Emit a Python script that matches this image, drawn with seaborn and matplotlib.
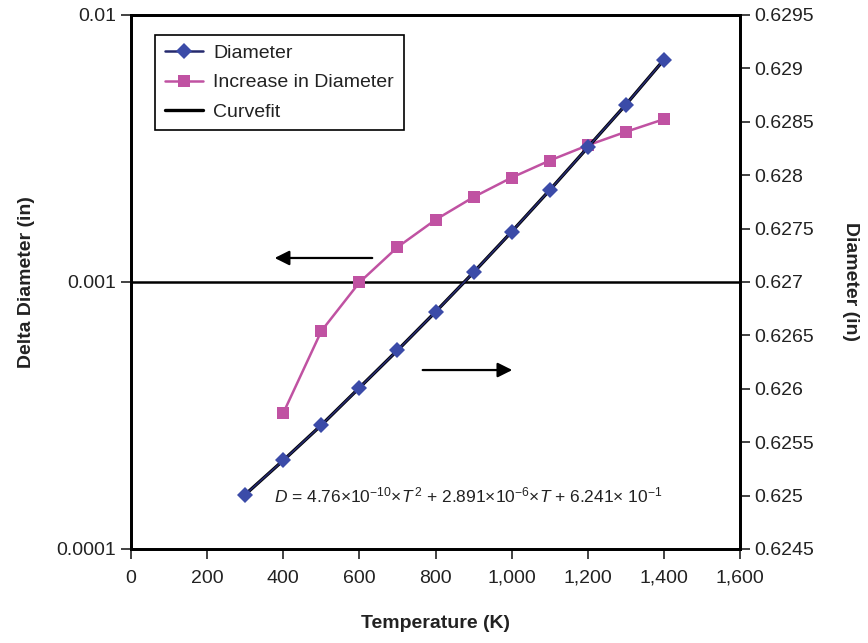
import numpy as np
import pandas as pd
import matplotlib
matplotlib.use("Agg")
import matplotlib.pyplot as plt
import matplotlib.ticker as mtick
import seaborn as sns
from matplotlib.lines import Line2D

# %% data
temps = [300, 400, 500, 600, 700, 800, 900, 1000, 1100, 1200, 1300, 1400]
diameter = [0.62501, 0.62533, 0.62566, 0.62601, 0.62636, 0.62672,
            0.62709, 0.62747, 0.62786, 0.62826, 0.62866, 0.62908]
temps_inc = [400, 500, 600, 700, 800, 900, 1000, 1100, 1200, 1300, 1400]
increase = [0.000323, 0.000655, 0.000996, 0.00135, 0.00171, 0.00208,
            0.00246, 0.00285, 0.00325, 0.00365, 0.00407]
curvefit = diameter

x_ticks = [0, 200, 400, 600, 800, 1000, 1200, 1400, 1600]
left_ticks = [0.0001, 0.001, 0.01]
left_labels = ["0.0001", "0.001", "0.01"]
right_ticks = [0.6245, 0.625, 0.6255, 0.626, 0.6265, 0.627, 0.6275, 0.628, 0.6285, 0.629, 0.6295]

# %% style
sns.set_style("ticks")
plt.rcParams["font.family"] = ["Liberation Sans", "DejaVu Sans"]
plt.rcParams["mathtext.fontset"] = "custom"
plt.rcParams["mathtext.rm"] = "Liberation Sans"
plt.rcParams["mathtext.it"] = "Liberation Sans:italic"
plt.rcParams["axes.unicode_minus"] = True

navy = "#252a6e"
blue = "#3b4ba8"
pink = "#c052a2"
txt = "#222222"

df_d = pd.DataFrame({"T": temps, "D": diameter, "fit": curvefit})
df_i = pd.DataFrame({"T": temps_inc, "inc": increase})

fig = plt.figure(figsize=(8.68, 6.43), dpi=100)
ax = fig.add_axes([0.151, 0.1462, 0.7015, 0.8305])
ax2 = ax.twinx()

# left axis: increase in diameter (log)
sns.lineplot(data=df_i, x="T", y="inc", ax=ax, color=pink, lw=1.8,
             marker="s", markersize=8.5, markeredgewidth=0, markerfacecolor=pink)
ax.set_yscale("log")
ax.set_ylim(0.0001, 0.01)
ax.set_yticks(left_ticks)
ax.set_yticklabels(left_labels)
ax.yaxis.set_minor_locator(mtick.NullLocator())
ax.axhline(0.001, color="black", lw=1.8, zorder=1)

# right axis: diameter and curvefit
sns.lineplot(data=df_d, x="T", y="fit", ax=ax2, color="black", lw=2.4)
sns.lineplot(data=df_d, x="T", y="D", ax=ax2, color=navy, lw=1.2,
             marker="D", markersize=8, markeredgewidth=0, markerfacecolor=blue)
ax2.set_ylim(0.6245, 0.6295)
ax2.set_yticks(right_ticks)
ax2.yaxis.set_major_formatter(mtick.FuncFormatter(lambda v, p: f"{v:.4f}".rstrip("0")))

ax.set_xlim(0, 1600)
ax.set_xticks(x_ticks)
ax.xaxis.set_major_formatter(mtick.StrMethodFormatter("{x:,.0f}"))

for a in (ax, ax2):
    for s in a.spines.values():
        s.set_linewidth(2)
        s.set_color("black")
    a.tick_params(direction="out", length=7, width=1.2, labelsize=14, colors=txt)
    a.tick_params(which="minor", length=0)
ax.tick_params(axis="x", pad=8)

ax.set_xlabel("Temperature (K)", fontsize=14, fontweight="bold", labelpad=20, color=txt)
ax.set_ylabel("Delta Diameter (in)", fontsize=14, fontweight="bold", labelpad=16, color=txt)
ax2.set_ylabel("Diameter (in)", fontsize=14, fontweight="bold", rotation=-90, labelpad=32, color=txt)

# arrows pointing to the axes
ax.annotate("", xy=(370, 0.00123), xytext=(641, 0.00123),
            arrowprops=dict(arrowstyle="-|>", color="black", lw=1.6, mutation_scale=22))
ax.annotate("", xy=(1009, 0.000468), xytext=(759, 0.000468),
            arrowprops=dict(arrowstyle="-|>", color="black", lw=1.6, mutation_scale=22))

ax.text(376, 0.000159,
        "$D$ = 4.76×10$^{-10}$×$T^{\\,2}$ + 2.891×10$^{-6}$×$T$ + 6.241× 10$^{-1}$",
        fontsize=12.5, va="center", ha="left", color=txt)

handles = [
    Line2D([], [], color=navy, lw=1.8, marker="D", markersize=8, markeredgewidth=0, markerfacecolor=blue),
    Line2D([], [], color=pink, lw=1.8, marker="s", markersize=8.5, markeredgewidth=0),
    Line2D([], [], color="black", lw=2.4),
]
leg = ax2.legend(handles, ["Diameter", "Increase in Diameter", "Curvefit"],
                 loc="upper left", bbox_to_anchor=(0.039, 0.963), borderaxespad=0,
                 fontsize=14, frameon=True, fancybox=False, framealpha=1,
                 edgecolor="black", handlelength=2.0, borderpad=0.5,
                 labelspacing=0.6, handletextpad=0.5)
leg.get_frame().set_linewidth(1.2)
for t in leg.get_texts():
    t.set_color(txt)

fig.savefig("out.png", dpi=100)
